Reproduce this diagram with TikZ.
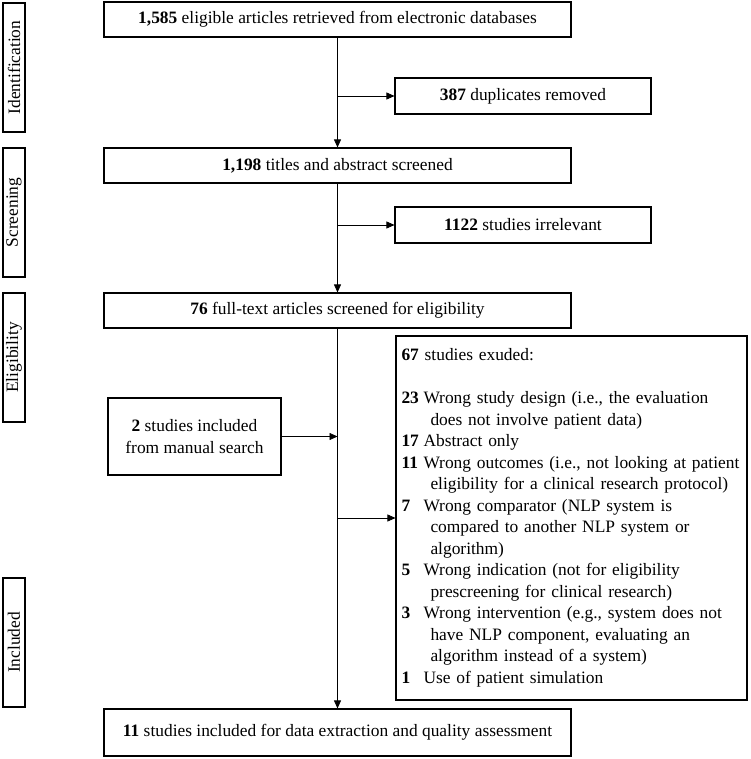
\documentclass[tikz,border=0pt]{standalone}
\usepackage{fontspec}
\setmainfont{Liberation Serif}
\usetikzlibrary{arrows.meta}

\tikzset{
  box/.style={draw, line width=1.1pt, inner sep=0pt, align=center,
    font=\fontsize{17.4}{21.5}\selectfont},
  mainbox/.style={box, minimum width=467pt, minimum height=35pt},
  sidebox/.style={box, minimum width=256pt, minimum height=36pt},
  phase/.style={box, rotate=90, minimum width=129pt, minimum height=22pt},
  arr/.style={-{Triangle[length=8pt,width=7pt]}, line width=0.7pt},
}
\newcommand{\exno}[1]{\makebox[22pt][l]{\textbf{#1}}}
\newcommand{\exind}{\hspace*{29pt}}

\begin{document}
\begin{tikzpicture}[x=1pt,y=-1pt]
\useasboundingbox (0,0) rectangle (750,759);

% phases
\node[phase] (ident) at (14,67.5) {Identification};
\node[phase] (scr) at (14,212.5) {Screening};
\node[phase] (elg) at (14,357.5) {Eligibility};
\node[phase] (inc) at (14,642.5) {Included};

% flow
\node[mainbox] (found) at (337.5,19.5) {\textbf{1,585} eligible articles retrieved from electronic databases};
\node[sidebox] (dupl) at (523,96) {\textbf{387} duplicates removed};
\node[mainbox] (titles) at (337.5,165.5) {\textbf{1,198} titles and abstract screened};
\node[sidebox] (irrel) at (523,225) {\textbf{1122} studies irrelevant};
\node[mainbox] (fulltext) at (337.5,310.5) {\textbf{76} full-text articles screened for eligibility};
\node[box, minimum width=173pt, minimum height=77pt] (manual) at (194.5,436.5)
  {\textbf{2} studies included\\from manual search};
\node[box, text width=340pt, inner xsep=5.5pt, minimum height=364pt, align=left] (excl) at (571.5,518)
  {\textbf{67} studies exuded:\\[21.5pt]
   \exno{23}Wrong study design (i.e., the evaluation\\
   \exind does not involve patient data)\\
   \exno{17}Abstract only\\
   \exno{11}Wrong outcomes (i.e., not looking at patient\\
   \exind eligibility for a clinical research protocol)\\
   \exno{7}Wrong comparator (NLP system is\\
   \exind compared to another NLP system or\\
   \exind algorithm)\\
   \exno{5}Wrong indication (not for eligibility\\
   \exind prescreening for clinical research)\\
   \exno{3}Wrong intervention (e.g., system does not\\
   \exind have NLP component, evaluating an\\
   \exind algorithm instead of a system)\\
   \exno{1}Use of patient simulation};
\node[mainbox, minimum height=47pt] (final) at (337.5,732.5)
  {\textbf{11} studies included for data extraction and quality assessment};

% connectors
\draw[arr] (found) -- (titles);
\draw[arr] (found.south |- dupl.west) -- (dupl.west);
\draw[arr] (titles) -- (fulltext);
\draw[arr] (titles.south |- irrel.west) -- (irrel.west);
\draw[arr] (fulltext) -- (final);
\draw[arr] (manual.east) -- (manual.east -| fulltext.south);
\draw[arr] (fulltext.south |- excl.west) -- (excl.west);
\end{tikzpicture}
\end{document}
